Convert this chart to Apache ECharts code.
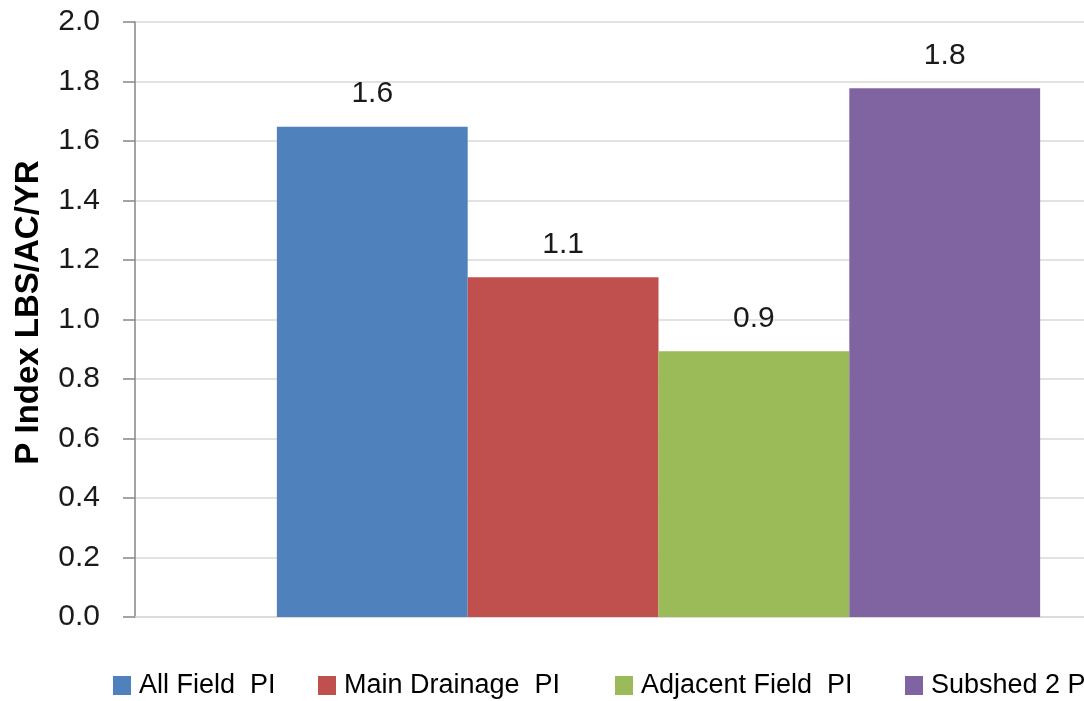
<!DOCTYPE html>
<html>
<head>
<meta charset="utf-8">
<script src="https://cdn.jsdelivr.net/npm/echarts@6/dist/echarts.min.js"></script>
<style>html,body{margin:0;padding:0;background:#fff;overflow:hidden;width:1084px;height:701px}#c{width:1200px;height:701px}</style>
</head>
<body>
<div id="c"></div>
<script>
var categories = [''];
var seriesNames = ['All Field  PI', 'Main Drainage  PI', 'Adjacent Field  PI', 'Subshed 2 PI'];
var seriesValues = [1.648, 1.142, 0.893, 1.777];
var seriesColors = ['#4F81BD', '#C0504D', '#9BBB59', '#8064A2'];
var yTicks = { min: 0, max: 2.0, interval: 0.2 };
var yTitle = 'P Index LBS/AC/YR';
var legendLefts = [108, 313, 610, 900];

var font = 'Liberation Sans, Arial, sans-serif';
var chart = echarts.init(document.getElementById('c'));

var series = seriesNames.map(function (n, i) {
  return {
    name: n,
    type: 'bar',
    data: [seriesValues[i]],
    barGap: '0%',
    barCategoryGap: '27.1%',
    itemStyle: { color: seriesColors[i] },
    label: {
      show: true,
      position: 'top',
      distance: 18,
      fontFamily: font,
      fontSize: 30,
      color: '#1a1a1a',
      formatter: function (p) { return p.value.toFixed(1); }
    }
  };
});

var legends = seriesNames.map(function (n, i) {
  return {
    data: [n],
    left: legendLefts[i],
    top: 667,
    itemWidth: 18,
    itemHeight: 19,
    icon: 'rect',
    textStyle: { fontFamily: font, fontSize: 27, color: '#000', padding: [0, 0, 0, 3] }
  };
});

chart.setOption({
  animation: false,
  grid: { left: 135, top: 22, bottom: 84, width: 1047 },
  legend: legends,
  xAxis: {
    type: 'category',
    data: categories,
    axisLine: { show: true, lineStyle: { color: '#d9d9d9', width: 1.5 } },
    axisTick: { show: false },
    axisLabel: { show: false }
  },
  yAxis: {
    type: 'value',
    min: yTicks.min,
    max: yTicks.max,
    interval: yTicks.interval,
    name: yTitle,
    nameLocation: 'middle',
    nameGap: 90,
    nameTextStyle: { fontFamily: font, fontSize: 33, fontWeight: 'bold', color: '#000', padding: [0, 0, 0, 14] },
    axisLine: { show: true, lineStyle: { color: '#868686', width: 1.5 } },
    axisTick: { show: true, length: 12, lineStyle: { color: '#868686', width: 1.5 } },
    axisLabel: {
      margin: 35,
      fontFamily: font,
      fontSize: 30,
      color: '#1a1a1a',
      formatter: function (v) { return v.toFixed(1); }
    },
    splitLine: { lineStyle: { color: '#d9d9d9', width: 1.5 } }
  },
  series: series
});
</script>
</body>
</html>
